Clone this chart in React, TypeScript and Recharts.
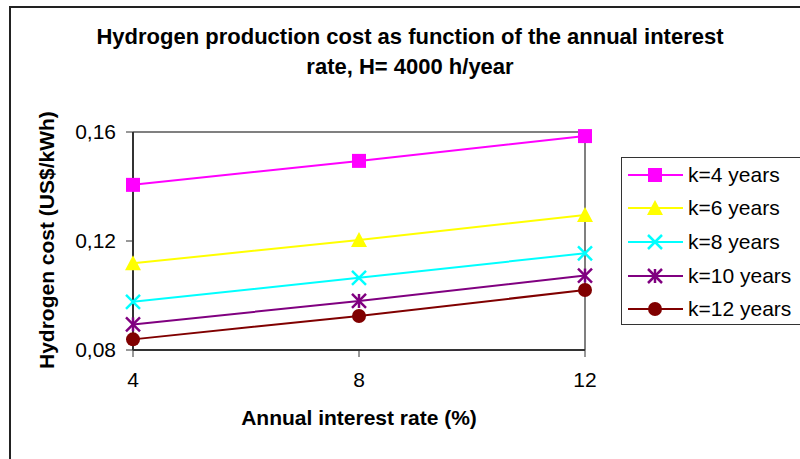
import React from "react";
import { LineChart, Line, XAxis, YAxis, ReferenceLine } from "recharts";

// interest rate (%)
const rates = [4, 8, 12];

// hydrogen cost (US$/kWh) per payback period
const k4 = [0.1406, 0.1494, 0.1585];
const k6 = [0.1118, 0.1204, 0.1295];
const k8 = [0.0977, 0.1065, 0.1155];
const k10 = [0.0894, 0.098, 0.1073];
const k12 = [0.0839, 0.0925, 0.102];

const yTicks = [0.08, 0.12, 0.16];

const series = [
  { key: "k4", name: "k=4 years", color: "#FF00FF", marker: "square", values: k4 },
  { key: "k6", name: "k=6 years", color: "#FFFF00", marker: "triangle", values: k6 },
  { key: "k8", name: "k=8 years", color: "#00FFFF", marker: "x", values: k8 },
  { key: "k10", name: "k=10 years", color: "#800080", marker: "star", values: k10 },
  { key: "k12", name: "k=12 years", color: "#800000", marker: "circle", values: k12 },
];

const data = rates.map((r, i) => {
  const row: Record<string, number> = { rate: r };
  series.forEach((s) => (row[s.key] = s.values[i]));
  return row;
});

const FONT = "'Liberation Sans', Arial, sans-serif";

function Marker({ type, cx, cy, color }: { type: string; cx: number; cy: number; color: string }) {
  const r = 7;
  if (type === "square")
    return <rect x={cx - r} y={cy - r} width={2 * r} height={2 * r} fill={color} />;
  if (type === "triangle")
    return (
      <polygon
        points={`${cx},${cy - r - 1} ${cx - r - 1},${cy + r} ${cx + r + 1},${cy + r}`}
        fill={color}
      />
    );
  if (type === "circle") return <circle cx={cx} cy={cy} r={r} fill={color} />;
  if (type === "x")
    return (
      <g stroke={color} strokeWidth={2.5}>
        <line x1={cx - r} y1={cy - r} x2={cx + r} y2={cy + r} />
        <line x1={cx - r} y1={cy + r} x2={cx + r} y2={cy - r} />
      </g>
    );
  // asterisk
  return (
    <g stroke={color} strokeWidth={2.5}>
      <line x1={cx - r} y1={cy - r} x2={cx + r} y2={cy + r} />
      <line x1={cx - r} y1={cy + r} x2={cx + r} y2={cy - r} />
      <line x1={cx} y1={cy - r} x2={cx} y2={cy + r} />
    </g>
  );
}

function LegendBox() {
  return (
    <div
      style={{
        position: "absolute",
        left: 621,
        top: 157,
        border: "1.5px solid #333",
        borderRight: "none",
        width: 180,
        height: 168,
        background: "#fff",
        boxSizing: "border-box",
      }}
    >
      {series.map((s) => (
        <div key={s.key} style={{ display: "flex", alignItems: "center", height: 33.6 }}>
          <svg width={66} height={20}>
            <line x1={6} y1={10} x2={61} y2={10} stroke={s.color} strokeWidth={2} />
            <Marker type={s.marker} cx={33} cy={10} color={s.color} />
          </svg>
          <span style={{ fontFamily: FONT, fontSize: 21, color: "#000" }}>{s.name}</span>
        </div>
      ))}
    </div>
  );
}

export default function App() {
  return (
    <div style={{ position: "absolute", left: 0, top: 0, width: 800, height: 459, background: "#fff", overflow: "hidden" }}>
      <div
        style={{
          position: "absolute",
          left: 9,
          top: 6,
          width: 820,
          height: 480,
          borderLeft: "2px solid #222",
          borderTop: "2px solid #222",
        }}
      />
      <div
        style={{
          position: "absolute",
          left: 0,
          width: 820,
          top: 22,
          textAlign: "center",
          fontFamily: FONT,
          fontWeight: "bold",
          fontSize: 22,
          lineHeight: "30px",
          color: "#000",
        }}
      >
        Hydrogen production cost as function of the annual interest
        <br />
        rate, H= 4000 h/year
      </div>
      <div style={{ position: "absolute", left: 0, top: 0 }}>
        <LineChart
          width={800}
          height={459}
          data={data}
          margin={{ top: 132, right: 215, left: 33, bottom: 69 }}
        >
          <XAxis
            dataKey="rate"
            type="number"
            domain={[4, 12]}
            ticks={rates}
            height={40}
            axisLine={{ stroke: "#333", strokeWidth: 2 }}
            tickLine={{ stroke: "#333", strokeWidth: 1 }}
            tickSize={7}
            tickMargin={15}
            tick={{ fill: "#000", fontSize: 21, fontFamily: FONT }}
            label={{
              value: "Annual interest rate (%)",
              position: "insideBottom",
              offset: -35,
              fill: "#000",
              fontSize: 21,
              fontWeight: "bold",
              fontFamily: FONT,
            }}
          />
          <YAxis
            type="number"
            domain={[0.08, 0.16]}
            ticks={yTicks}
            width={100}
            axisLine={{ stroke: "#333", strokeWidth: 2 }}
            tickLine={{ stroke: "#333", strokeWidth: 1 }}
            tickSize={7}
            tickMargin={10}
            tickFormatter={(v: number) => v.toFixed(2).replace(".", ",")}
            tick={{ fill: "#000", fontSize: 21, fontFamily: FONT }}
            label={{
              value: "Hydrogen cost (US$/kWh)",
              angle: -90,
              position: "insideLeft",
              offset: 14,
              dy: 128,
              fill: "#000",
              fontSize: 21,
              fontWeight: "bold",
              fontFamily: FONT,
            }}
          />
          <ReferenceLine y={0.16} stroke="#808080" strokeWidth={2} />
          <ReferenceLine x={12} stroke="#808080" strokeWidth={2} />
          {series.map((s) => (
            <Line
              key={s.key}
              dataKey={s.key}
              name={s.name}
              stroke={s.color}
              strokeWidth={2}
              isAnimationActive={false}
              dot={(p: any) => (
                <Marker key={`${s.key}-${p.index}`} type={s.marker} cx={p.cx} cy={p.cy} color={s.color} />
              )}
              activeDot={false}
            />
          ))}
        </LineChart>
      </div>
      <LegendBox />
    </div>
  );
}
